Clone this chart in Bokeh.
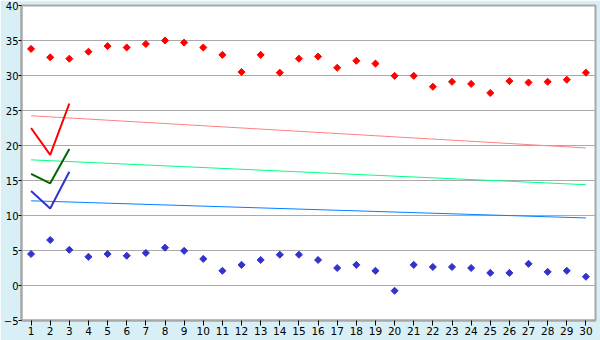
import math
from bokeh.plotting import figure
from bokeh.models import FixedTicker, Range1d
from bokeh.embed import file_html
from bokeh.resources import INLINE

categories = list(range(1, 31))
red_points = [33.8, 32.6, 32.4, 33.4, 34.2, 34.0, 34.5, 35.0, 34.7, 34.0,
              32.95, 30.5, 32.95, 30.4, 32.4, 32.7, 31.1, 32.1, 31.7, 29.95,
              29.95, 28.4, 29.1, 28.8, 27.5, 29.2, 29.0, 29.1, 29.4, 30.4]
blue_points = [4.5, 6.5, 5.1, 4.1, 4.5, 4.25, 4.65, 5.4, 4.95, 3.8,
               2.1, 2.95, 3.65, 4.4, 4.4, 3.65, 2.5, 2.95, 2.1, -0.75,
               2.95, 2.65, 2.65, 2.5, 1.8, 1.8, 3.1, 1.95, 2.1, 1.25]
trend_x = [1, 30]
trend_red = [24.25, 19.65]
trend_green = [17.95, 14.4]
trend_blue = [12.1, 9.65]
v_x = [1, 2, 3]
v_red = [22.5, 18.65, 26.0]
v_green = [15.95, 14.6, 19.5]
v_blue = [13.5, 11.0, 16.25]
y_ticks = [-5, 0, 5, 10, 15, 20, 25, 30, 35, 40]

p = figure(width=600, height=340, output_backend="svg", toolbar_location=None,
           x_range=Range1d(0.5, 30.5), y_range=Range1d(-5, 40),
           min_border_left=20, min_border_right=5, min_border_top=5, min_border_bottom=20)
p.border_fill_color = "#d9eff6"
p.background_fill_color = "white"
p.outline_line_color = "#a8a8a8"
p.outline_line_width = 2

p.xgrid.visible = False
p.ygrid.grid_line_color = "#aaaaaa"
p.ygrid.grid_line_width = 1
p.ygrid.ticker = FixedTicker(ticks=y_ticks)

for ax in (p.xaxis[0], p.yaxis[0]):
    ax.axis_line_color = "#a8a8a8"
    ax.axis_line_width = 2
    ax.major_tick_line_color = "black"
    ax.minor_tick_line_color = None
    ax.major_tick_in = 0
    ax.major_label_text_font = "DejaVu Sans"
    ax.major_label_text_font_size = "10px"
    ax.major_label_text_color = "black"
    ax.major_label_standoff = 0
p.xaxis[0].ticker = FixedTicker(ticks=categories)
p.xaxis[0].major_tick_out = 5
p.xaxis[0].major_label_standoff = 1
p.xaxis[0].major_label_text_font_size = "10.5px"
p.yaxis[0].ticker = FixedTicker(ticks=y_ticks)
p.yaxis[0].major_tick_out = 3

p.line(trend_x, trend_red, line_color="#ff8080", line_width=1)
p.line(trend_x, trend_green, line_color="#00ff80", line_width=1)
p.line(trend_x, trend_blue, line_color="#0080ff", line_width=1)

p.line(v_x, v_red, line_color="#ff0000", line_width=2)
p.line(v_x, v_green, line_color="#006600", line_width=2)
p.line(v_x, v_blue, line_color="#3333cc", line_width=2)

p.scatter(categories, red_points, marker="square", size=5, angle=math.pi / 4,
          fill_color="#ff0000", line_color="#ff0000")
p.scatter(categories, blue_points, marker="square", size=5, angle=math.pi / 4,
          fill_color="#3333cc", line_color="#3333cc")

open("out.html", "w").write(file_html(p, INLINE))
